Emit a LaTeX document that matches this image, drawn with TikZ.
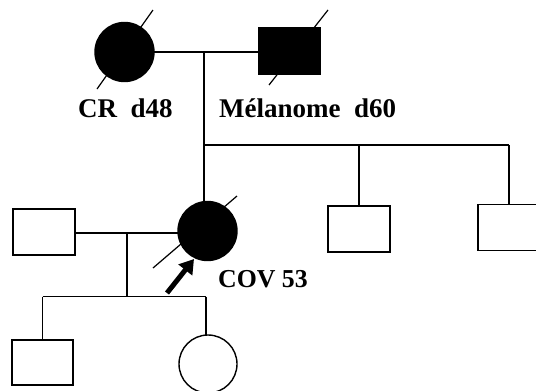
\documentclass[tikz,border=0pt]{standalone}
\usepackage{fontspec}
\setmainfont{Liberation Serif}
\usetikzlibrary{arrows.meta}
\tikzset{
  ped/.style={line width=1.4pt},
  fcirc/.style={circle, draw, ped, fill=black, minimum size=59pt, inner sep=0pt, outer sep=0pt},
  ecirc/.style={circle, draw, ped, fill=white, minimum size=58pt, inner sep=0pt, outer sep=0pt},
  fsq/.style={rectangle, draw, ped, fill=black, minimum width=62pt, minimum height=46pt, inner sep=0pt, outer sep=0pt},
  esq/.style={rectangle, draw, ped, fill=white, minimum width=62pt, minimum height=46pt, inner sep=0pt, outer sep=0pt},
  lbl/.style={font=\bfseries\fontsize{27}{30}\selectfont, anchor=base west, inner sep=0pt},
  slash/.style={line width=1.2pt},
}
\begin{document}
\begin{tikzpicture}[x=1pt,y=-1pt]
\useasboundingbox (0,0) rectangle (536,391);
\begin{scope}
\clip (0,0) rectangle (536,391);
% generation I
\node[fcirc] (gm) at (124.5,52) {};
\node[fsq] (gf) at (289.5,51) {};
\coordinate (gm1) at (97,89);  \coordinate (gm2) at (153,10);
\coordinate (gf1) at (269,85); \coordinate (gf2) at (328,10);
\draw[slash] (gm1) -- (gm2);
\draw[slash] (gf1) -- (gf2);
\coordinate (m1) at (204,52);
\draw[ped] (gm.east |- m1) -- (gf.west |- m1);
\coordinate (s1) at (204,145);
\coordinate (s2) at (359,145);
\coordinate (s3) at (509,145);
\draw[ped] (m1) -- (s1);
\draw[ped] (s1) -- (s3);
% generation II
\node[fcirc] (prob) at (207.5,231) {};
\node[esq] (u1) at (359,229) {};
\node[esq] (u2) at (509,227.5) {};
\node[esq] (sp) at (44,232) {};
\draw[ped] (s1) -- (s1 |- prob.north);
\draw[ped] (s2) -- (u1.north);
\draw[ped] (s3) -- (u2.north);
\coordinate (pr1) at (153,268); \coordinate (pr2) at (237,196);
\draw[slash] (pr1) -- (pr2);
\coordinate (m2) at (127,233);
\draw[ped] (sp.east |- m2) -- (prob.west |- m2);
\coordinate (c0) at (127,296.5);
\coordinate (c1) at (42.5,296.5);
\coordinate (c2) at (206,296.5);
\draw[ped] (m2) -- (c0);
\draw[ped] (c1) -- (c2);
% generation III
\node[esq, minimum width=61pt, minimum height=45pt] (k1) at (42.5,362.5) {};
\node[ecirc] (k2) at (208,364) {};
\draw[ped] (c1) -- (k1.north);
\draw[ped] (c2) -- (c2 |- k2.north);
% arrow
\coordinate (a1) at (167,293);
\coordinate (a2) at (194,259);
\draw[line width=5pt, -{Triangle[length=14pt,width=17pt]}] (a1) -- (a2);
\end{scope}
% labels
\node[lbl] (t1) at (78,117) {CR\ \ d48};
\node[lbl] (t2) at (219,117) {Mélanome\ \ d60};
\node[lbl, font=\bfseries\fontsize{25.8}{28}\selectfont] (t3) at (218,287) {COV 53};
\end{tikzpicture}
\end{document}
